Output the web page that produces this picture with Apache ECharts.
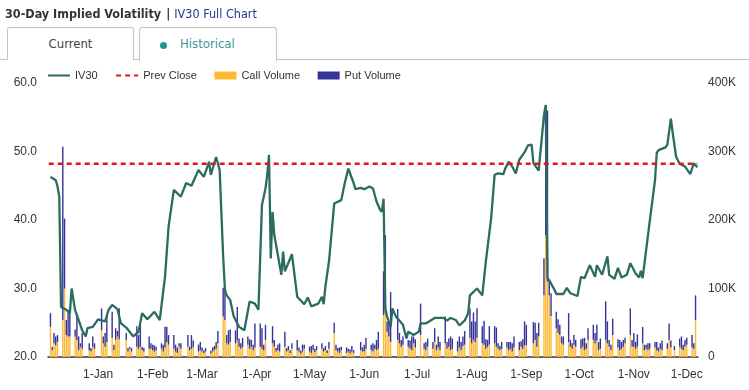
<!DOCTYPE html>
<html><head><meta charset="utf-8">
<script src="https://cdn.jsdelivr.net/npm/echarts@6/dist/echarts.min.js"></script>
<style>
html,body{margin:0;padding:0;background:#fff;}
#wrap{position:relative;width:749px;height:390px;overflow:hidden;font-family:"DejaVu Sans Condensed","DejaVu Sans",sans-serif;}
#chart{position:absolute;left:0;top:0;width:749px;height:390px;}
#title{position:absolute;left:5px;top:6px;font-size:12.5px;font-weight:bold;color:#333;white-space:nowrap;}
#title .sep{margin:0 4px 0 5px;}
#title .lnk{color:#1a3a8a;font-weight:normal;}
#hline{position:absolute;left:0;top:59px;width:749px;height:1px;background:#c4c4c4;}
.tab{position:absolute;top:27px;height:33px;border:1px solid #c4c4c4;border-bottom:none;border-radius:3px 3px 0 0;box-sizing:border-box;font-size:13px;line-height:31px;color:#444;background:#fff;}
#tabCur{left:7px;width:127px;text-align:center;}
#tabHis{left:139px;width:138px;height:34px;z-index:2;}
#tabHis .dot{position:absolute;left:20px;top:14px;width:7px;height:7px;border-radius:50%;background:#1a9a8c;}
#tabHis .txt{position:absolute;left:40px;top:0;color:#3a9a92;}
</style></head>
<body>
<div id="wrap">
  <div id="chart"></div>
  <div id="title">30-Day Implied Volatility<span class="sep">|</span><span class="lnk">IV30 Full Chart</span></div>
  <div id="hline"></div>
  <div class="tab" id="tabCur">Current</div>
  <div class="tab" id="tabHis"><span class="dot"></span><span class="txt">Historical</span></div>
</div>
<script>
// ---- data ----
const monthNames = ['Jan','Feb','Mar','Apr','May','Jun','Jul','Aug','Sep','Oct','Nov','Dec'];
const leftTicks = [20, 30, 40, 50, 60];
const rightTicksK = [0, 100, 200, 300, 400];
const prevClose = 48.2;
const xRange = ['2022-12-04', '2023-12-07'];

// trading days per month (category dates of the volume bars)
const tradingDays = [
  ['2022-12', [5,6,7,8,9,12,13,14,15,16,19,20,21,22,23,27,28,29,30]],
  ['2023-01', [3,4,5,6,9,10,11,12,13,17,18,19,20,23,24,25,26,27,30,31]],
  ['2023-02', [1,2,3,6,7,8,9,10,13,14,15,16,17,21,22,23,24,27,28]],
  ['2023-03', [1,2,3,6,7,8,9,10,13,14,15,16,17,20,21,22,23,24,27,28,29,30,31]],
  ['2023-04', [3,4,5,6,10,11,12,13,14,17,18,19,20,21,24,25,26,27,28]],
  ['2023-05', [1,2,3,4,5,8,9,10,11,12,15,16,17,18,19,22,23,24,25,26,30,31]],
  ['2023-06', [1,2,5,6,7,8,9,12,13,14,15,16,20,21,22,23,26,27,28,29,30]],
  ['2023-07', [3,5,6,7,10,11,12,13,14,17,18,19,20,21,24,25,26,27,28,31]],
  ['2023-08', [1,2,3,4,7,8,9,10,11,14,15,16,17,18,21,22,23,24,25,28,29,30,31]],
  ['2023-09', [1,5,6,7,8,11,12,13,14,15,18,19,20,21,22,25,26,27,28,29]],
  ['2023-10', [2,3,4,5,6,9,10,11,12,13,16,17,18,19,20,23,24,25,26,27,30,31]],
  ['2023-11', [1,2,3,6,7,8,9,10,13,14,15,16,17,20,21,22,24,27,28,29,30]],
  ['2023-12', [1,4,5,6]]
];

// call volume (thousands), one row per month
const callVolK = [
  [44,10,20,17,22,54,100,32,30,30,30,25,10,15,12,10,8,15,12],
  [39,20,15,22,28,10,25,30,26,25,8,12,8,15,12,15,10,8,12,12],
  [10,8,10,12,8,14,22,18,12,8,6,15,12,15,10,12,14,8,10],
  [8,6,8,5,8,10,12,20,59,54,20,18,22,20,24,15,12,14,18,12,15,10,14],
  [15,12,10,25,20,15,8,10,8,15,8,10,6,12,10,8,5,8,12],
  [8,6,10,7,10,12,8,10,6,12,35,10,8,6,10,6,8,5,8,6,10,8],
  [8,12,10,8,12,10,12,61,64,37,30,22,25,20,15,18,15,12,10,20,14],
  [32,12,10,15,12,22,10,14,10,20,12,15,10,12,8,14,10,16,18,28],
  [20,25,22,28,20,18,12,15,18,20,15,12,10,12,14,10,12,8,14,10,15,12,17],
  [17,20,25,15,30,90,178,110,90,60,42,35,32,20,18,22,15,12,18,15],
  [12,15,10,12,25,25,20,24,10,12,25,20,15,10,32,14,10,12,15,20,32,15],
  [15,12,15,20,10,12,10,12,14,10,8,12,10,12,25,14,10,15,12,10,15],
  [18,14,12,54]
];

// put volume (thousands), one row per month
const putVolK = [
  [20,5,15,13,10,253,102,22,39,43,10,39,20,5,23,10,5,15,8],
  [32,10,20,42,38,8,17,8,45,10,5,3,5,30,20,32,5,5,18,8],
  [8,9,5,8,10,30,22,14,20,10,8,5,8,17,5,20,10,10,12],
  [6,4,5,4,6,6,10,18,42,46,12,21,18,19,49,12,8,14,12,14,10,8,35],
  [34,30,8,22,25,10,5,8,12,22,5,6,4,8,15,6,4,10,6],
  [7,10,8,5,6,8,5,6,4,10,15,8,5,8,5,8,4,6,8,4,12,6],
  [10,16,8,12,6,15,25,64,114,15,20,73,45,15,10,12,10,12,20,10,12],
  [46,8,12,12,10,20,8,16,12,39,10,12,20,15,15,16,12,14,20,43],
  [32,40,30,43,25,35,14,10,27,25,28,8,6,10,8,12,10,12,16,12,8,14,35],
  [30,31,25,20,20,54,190,250,22,33,24,20,15,10,12,42,10,8,14,10],
  [14,12,18,8,17,22,15,23,12,15,56,32,10,8,24,12,15,10,10,8,39,10],
  [20,10,18,24,8,6,10,8,8,12,6,8,14,8,24,10,6,12,18,8,10],
  [10,18,8,36]
];

// IV30 line, points
const iv30 = [
  ['2022-12-05',46.3],['2022-12-08',45.8],['2022-12-09',44.9],['2022-12-10',43.4],['2022-12-11',27.3],
  ['2022-12-14',26.9],['2022-12-16',26.4],['2022-12-17',30.0],['2022-12-18',30.1],['2022-12-19',26.8],
  ['2022-12-21',25.4],['2022-12-23',23.9],['2022-12-25',23.0],['2022-12-26',24.2],['2022-12-29',24.4],
  ['2023-01-01',25.5],['2023-01-05',25.2],['2023-01-07',26.9],['2023-01-09',27.6],['2023-01-12',27.0],
  ['2023-01-14',24.9],['2023-01-17',24.3],['2023-01-21',23.0],['2023-01-24',23.7],['2023-01-26',26.4],
  ['2023-01-29',25.5],['2023-02-02',26.6],['2023-02-05',25.4],['2023-02-08',31.7],['2023-02-10',39.0],
  ['2023-02-13',44.4],['2023-02-17',43.4],['2023-02-20',45.4],['2023-02-23',45.0],['2023-02-27',47.3],
  ['2023-03-02',46.3],['2023-03-05',48.5],['2023-03-06',46.6],['2023-03-09',49.2],['2023-03-11',47.3],
  ['2023-03-13',34.6],['2023-03-14',29.8],['2023-03-15',29.0],['2023-03-17',28.3],['2023-03-19',25.9],
  ['2023-03-22',24.4],['2023-03-25',23.9],['2023-03-28',28.1],['2023-03-31',27.8],['2023-04-02',26.9],
  ['2023-04-04',42.2],['2023-04-06',44.6],['2023-04-07',46.6],['2023-04-08',49.5],['2023-04-09',34.4],
  ['2023-04-10',41.2],['2023-04-11',37.8],['2023-04-15',32.0],['2023-04-16',35.4],['2023-04-17',32.5],
  ['2023-04-21',35.0],['2023-04-24',28.8],['2023-04-28',27.7],['2023-04-30',28.7],['2023-05-02',27.4],
  ['2023-05-06',27.8],['2023-05-08',28.8],['2023-05-09',27.7],['2023-05-10',30.3],['2023-05-12',33.9],
  ['2023-05-15',42.4],['2023-05-19',42.9],['2023-05-21',45.4],['2023-05-23',47.5],['2023-05-26',45.4],
  ['2023-05-27',44.5],['2023-05-30',44.7],['2023-06-01',44.5],['2023-06-04',44.9],['2023-06-06',44.6],
  ['2023-06-08',42.7],['2023-06-10',41.5],['2023-06-11',41.2],['2023-06-12',43.1],['2023-06-13',27.1],
  ['2023-06-14',25.9],['2023-06-16',24.4],['2023-06-17',27.1],['2023-06-19',25.9],['2023-06-23',24.7],
  ['2023-06-25',22.7],['2023-06-26',23.7],['2023-06-29',23.2],['2023-07-02',23.7],['2023-07-03',24.9],
  ['2023-07-06',24.9],['2023-07-11',25.7],['2023-07-16',25.7],['2023-07-18',25.3],['2023-07-20',25.7],
  ['2023-07-23',25.4],['2023-07-25',24.6],['2023-07-28',25.3],['2023-07-30',26.4],['2023-07-31',29.0],
  ['2023-08-02',29.5],['2023-08-04',30.0],['2023-08-07',29.0],['2023-08-09',33.9],['2023-08-12',40.2],
  ['2023-08-14',46.6],['2023-08-16',46.8],['2023-08-19',46.7],['2023-08-20',47.5],['2023-08-21',47.3],
  ['2023-08-22',48.5],['2023-08-24',47.8],['2023-08-26',46.8],['2023-08-28',48.8],['2023-08-31',49.9],
  ['2023-09-02',50.9],['2023-09-04',51.0],['2023-09-05',48.3],['2023-09-08',47.2],['2023-09-09',47.4],
  ['2023-09-11',55.3],['2023-09-12',56.8],['2023-09-13',31.5],['2023-09-14',31.2],['2023-09-17',29.8],
  ['2023-09-18',29.2],['2023-09-22',29.2],['2023-09-24',30.1],['2023-09-26',29.3],['2023-09-30',28.9],
  ['2023-10-02',31.7],['2023-10-04',31.5],['2023-10-07',33.4],['2023-10-10',31.7],['2023-10-11',33.4],
  ['2023-10-14',32.0],['2023-10-17',34.7],['2023-10-18',32.0],['2023-10-21',31.4],['2023-10-23',33.0],
  ['2023-10-25',31.6],['2023-10-28',32.0],['2023-10-30',33.7],['2023-11-02',32.2],['2023-11-04',31.6],
  ['2023-11-05',32.6],['2023-11-06',31.5],['2023-11-10',39.8],['2023-11-13',45.8],['2023-11-14',49.8],
  ['2023-11-15',50.2],['2023-11-19',50.6],['2023-11-20',51.0],['2023-11-22',54.8],['2023-11-23',52.8],
  ['2023-11-25',49.2],['2023-11-27',48.2],['2023-11-30',47.8],['2023-12-03',46.7],['2023-12-04',46.7],
  ['2023-12-05',48.3],['2023-12-07',47.7]
];

// ---- build series data ----
const pad = n => (n < 10 ? '0' : '') + n;
const barDates = [];
tradingDays.forEach(([m, days]) => days.forEach(d => barDates.push(m + '-' + pad(d))));
const callFlat = callVolK.flat();
const putFlat = putVolK.flat();
const callData = barDates.map((d, i) => [d, callFlat[i]]);
const putData = barDates.map((d, i) => [d, putFlat[i]]);

const chart = echarts.init(document.getElementById('chart'), null, {renderer: 'canvas'});
const FONT = '"Liberation Sans", Arial, sans-serif';
chart.setOption({
  animation: false,
  textStyle: {fontFamily: FONT},
  legend: {
    left: 42, top: 65, itemWidth: 22, itemHeight: 8, itemGap: 17.5,
    textStyle: {fontSize: 11, color: '#333', fontFamily: FONT},
    data: [
      {name: 'IV30', itemStyle: {opacity: 0}},
      {name: 'Prev Close', itemStyle: {opacity: 0}},
      {name: 'Call Volume', icon: 'rect'},
      {name: 'Put Volume', icon: 'rect'}
    ]
  },
  grid: {left: 48, right: 51, top: 83, bottom: 33},
  xAxis: {
    type: 'time', min: xRange[0], max: xRange[1],
    splitNumber: 12, minInterval: 28 * 864e5, maxInterval: 31 * 864e5,
    axisLine: {lineStyle: {color: '#333', width: 1.5}},
    axisTick: {show: false},
    splitLine: {show: false},
    axisLabel: {
      color: '#333', fontSize: 12, margin: 12, fontFamily: FONT,
      formatter: function (v) {
        const d = new Date(v);
        if (d.getDate() !== 1) return '';
        return '1-' + monthNames[d.getMonth()];
      }
    }
  },
  yAxis: [
    {
      type: 'value', min: leftTicks[0], max: leftTicks[leftTicks.length - 1], interval: 10,
      axisLine: {show: false}, axisTick: {show: false}, splitLine: {show: false},
      axisLabel: {color: '#333', fontSize: 12, margin: 11, fontFamily: FONT, formatter: v => v.toFixed(1)}
    },
    {
      type: 'value', min: rightTicksK[0], max: rightTicksK[rightTicksK.length - 1], interval: 100,
      position: 'right',
      axisLine: {show: false}, axisTick: {show: false}, splitLine: {show: false},
      axisLabel: {color: '#333', fontSize: 12, margin: 10, fontFamily: FONT, formatter: v => v === 0 ? '0' : v + 'K'}
    }
  ],
  series: [
    {
      name: 'Call Volume', type: 'bar', yAxisIndex: 1, stack: 'vol', barWidth: 1.4,
      itemStyle: {color: '#FDB934'}, data: callData, z: 2
    },
    {
      name: 'Put Volume', type: 'bar', yAxisIndex: 1, stack: 'vol', barWidth: 1.4,
      itemStyle: {color: '#333399'}, data: putData, z: 2
    },
    {
      name: 'IV30', type: 'line', yAxisIndex: 0, showSymbol: false, symbol: 'none',
      lineStyle: {color: '#2C6B5F', width: 2.3}, itemStyle: {color: '#2C6B5F'},
      data: iv30, z: 5
    },
    {
      name: 'Prev Close', type: 'line', yAxisIndex: 0, showSymbol: false, symbol: 'none',
      lineStyle: {color: '#E3141C', width: 2.5, type: [5, 4]}, itemStyle: {color: '#E3141C'},
      data: [[xRange[0], prevClose], [xRange[1], prevClose]], z: 6
    }
  ]
});
</script>
</body></html>
